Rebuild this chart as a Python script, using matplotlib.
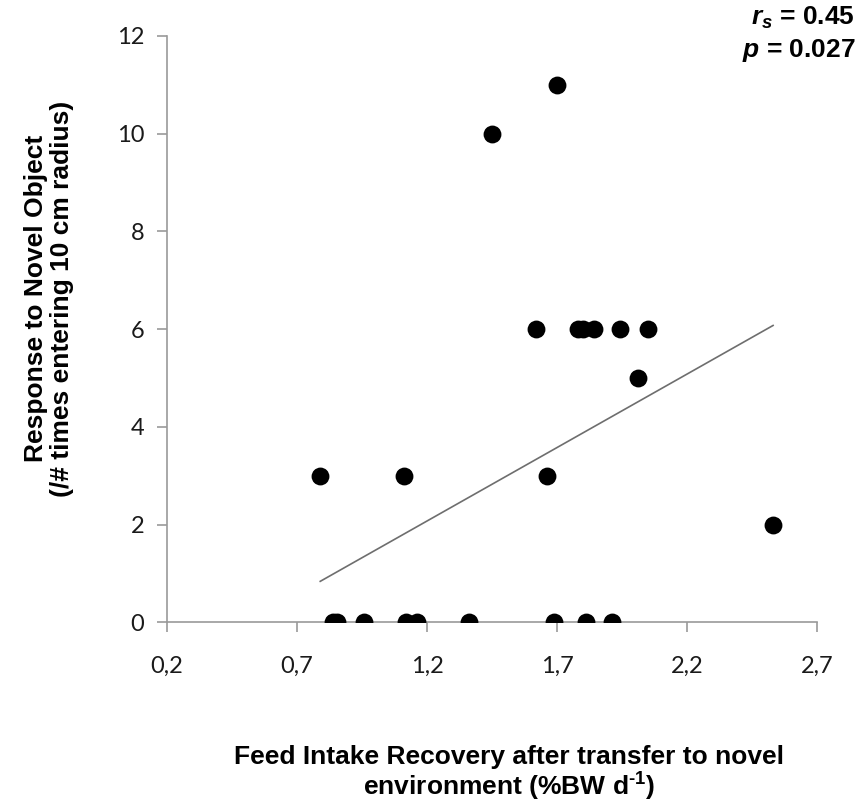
import matplotlib
matplotlib.use("Agg")
import matplotlib.pyplot as plt
import numpy as np

plt.rcParams["mathtext.fontset"] = "custom"
plt.rcParams["mathtext.it"] = "Liberation Sans:italic:bold"
plt.rcParams["mathtext.bf"] = "Liberation Sans:bold"
plt.rcParams["mathtext.rm"] = "Liberation Sans:bold"

# Data
feed_recovery = [0.79, 1.11, 1.66, 1.45, 1.70,
                 1.62, 1.78, 1.80, 1.84, 1.94, 2.05,
                 2.01, 2.53,
                 0.84, 0.855, 0.96, 1.12, 1.16, 1.36, 1.69, 1.81, 1.91]
novel_response = [3, 3, 3, 10, 11,
                  6, 6, 6, 6, 6, 6,
                  5, 2,
                  0, 0, 0, 0, 0, 0, 0, 0, 0]
trend_slope = 3.01
trend_intercept = -1.54
x_ticks = [0.2, 0.7, 1.2, 1.7, 2.2, 2.7]
x_tick_labels = ["0,2", "0,7", "1,2", "1,7", "2,2", "2,7"]
y_ticks = [0, 2, 4, 6, 8, 10, 12]
stats_text = [r"$\it{r}_{\it{s}}$" + " = 0.45", r"$\it{p}$" + " = 0.027"]

fig = plt.figure(figsize=(8.57, 8.07), dpi=100)
ax = fig.add_axes([0.1945, 0.2289, 0.7592, 0.7265])

ax.scatter(feed_recovery, novel_response, s=165, color="black", zorder=3,
           linewidths=0)
xs = np.array([min(feed_recovery), max(feed_recovery)])
ax.plot(xs, trend_slope * xs + trend_intercept, color="#6e6e6e", lw=1.2, zorder=2)

ax.set_xlim(0.2, 2.7)
ax.set_ylim(0, 12)
ax.set_xticks(x_ticks)
ax.set_xticklabels(x_tick_labels)
ax.set_yticks(y_ticks)

for s in ["top", "right"]:
    ax.spines[s].set_visible(False)
for s in ["left", "bottom"]:
    ax.spines[s].set_color("#9a9a9a")
    ax.spines[s].set_linewidth(1.2)
    ax.spines[s].set_clip_on(False)
ax.tick_params(axis="both", direction="out", length=7, width=1.2, color="#9a9a9a",
               labelsize=17, labelcolor="#1a1a1a")
ax.tick_params(axis="x", pad=17)
ax.tick_params(axis="y", pad=9)
for lab in ax.get_xticklabels() + ax.get_yticklabels():
    lab.set_family("Lato")

fig.text(0.594, 0.041, "Feed Intake Recovery after transfer to novel\nenvironment (%BW d$^{\\text{-1}}$)",
         ha="center", va="center", fontsize=19, fontweight="bold",
         family="Liberation Sans", linespacing=1.1)
fig.text(0.057, 0.63, "Response to Novel Object\n(/# times entering 10 cm radius)",
         ha="center", va="center", fontsize=19, fontweight="bold",
         family="Liberation Sans", rotation=90, linespacing=1.1)

fig.text(0.998, 0.978, stats_text[0], ha="right", va="center", fontsize=19,
         fontweight="bold", family="Liberation Sans")
fig.text(0.998, 0.937, stats_text[1], ha="right", va="center", fontsize=19,
         fontweight="bold", family="Liberation Sans")

fig.savefig("out.png", dpi=100)
